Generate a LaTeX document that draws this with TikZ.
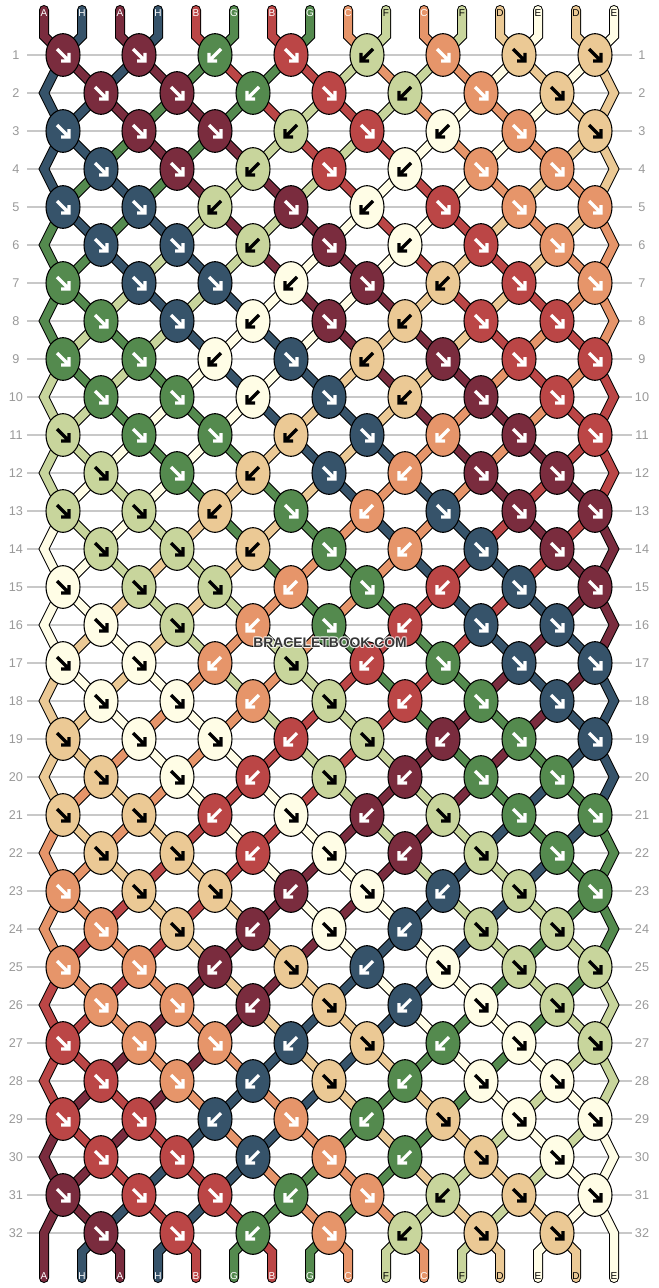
\documentclass[tikz,border=0pt]{standalone}
\usepackage{fontspec}
\setmainfont{Liberation Sans}
\usetikzlibrary{shapes.geometric}
\definecolor{cA}{HTML}{7A2C3E}
\definecolor{cH}{HTML}{36536A}
\definecolor{cB}{HTML}{BB4646}
\definecolor{cG}{HTML}{548A4E}
\definecolor{cC}{HTML}{E6956A}
\definecolor{cF}{HTML}{C8D59C}
\definecolor{cD}{HTML}{EBC995}
\definecolor{cE}{HTML}{FFFDE6}
\definecolor{gridgray}{HTML}{C8C8C8}
\definecolor{numgray}{HTML}{999999}
\definecolor{wmark}{HTML}{353535}
\def\txtA{white}\def\txtH{white}\def\txtB{white}\def\txtG{white}\def\txtC{white}
\def\txtF{black}\def\txtD{black}\def\txtE{black}
\begin{document}
\begin{tikzpicture}[x=0.75pt,y=-0.75pt,
  knot/.style={ellipse,draw=black,line width=0.8pt,minimum width=25.5pt,minimum height=32pt,inner sep=0pt},
  strandout/.style={line width=7.5pt,black,line cap=round,line join=miter},
  strandin/.style={line width=6pt,line cap=round,line join=miter},
  arr/.style={line width=2.4pt,line join=miter},
  rownum/.style={text=numgray,font=\fontsize{9.5}{11}\selectfont,inner sep=0pt},
  lbl/.style={font=\fontsize{7.5}{8}\selectfont,inner sep=0pt},
  gridline/.style={gridgray,line width=0.9pt},
  wmstyle/.style={font=\bfseries\fontsize{10.4}{12}\selectfont,inner sep=0pt}]
\useasboundingbox (0,0) rectangle (658,1288);
\fill[white] (0,0) rectangle (658,1288);
% grid lines and row numbers
\foreach \r in {1,...,32} {
  \draw[gridline] (27,{55+(\r-1)*38}) -- (632,{55+(\r-1)*38});
  \node[rownum] (rl-\r) at (16,{55+(\r-1)*38}) {\r};
  \node[rownum] (rr-\r) at (642,{55+(\r-1)*38}) {\r};
}
% coordinates
\foreach \j in {1,...,16} {
  \coordinate (t-\j) at ({44+(\j-1)*38},10);
  \coordinate (tb-\j) at ({44+(\j-1)*38},36);
  \coordinate (bb-\j) at ({44+(\j-1)*38},1252);
  \coordinate (b-\j) at ({44+(\j-1)*38},1278);
}
\foreach \r in {1,3,...,31} {
  \foreach \i in {1,3,...,15} {\coordinate (p-\r-\i) at ({63+(\i-1)*38},{55+(\r-1)*38});}
}
\foreach \r in {2,4,...,32} {
  \foreach \i in {2,4,...,14} {\coordinate (p-\r-\i) at ({63+(\i-1)*38},{55+(\r-1)*38});}
  \coordinate (e-\r-1) at (44,{55+(\r-1)*38});
  \coordinate (e-\r-16) at (614,{55+(\r-1)*38});
}
% string paths
\foreach \c [count=\s] in {A,H,A,H,B,G,B,G,C,F,C,F,D,E,D,E} {
  \xdef\curp{\s}
  \xdef\strpath{(t-\s) -- (tb-\s)}
  \foreach \r in {1,...,32} {
    \pgfmathtruncatemacro\rodd{mod(\r,2)}
    \pgfmathtruncatemacro\podd{mod(\curp,2)}
    \ifnum\rodd=1\relax
      \ifnum\podd=1\relax
        \xdef\strpath{\strpath -- (p-\r-\curp)}
        \pgfmathtruncatemacro\np{\curp+1}
      \else
        \pgfmathtruncatemacro\li{\curp-1}
        \xdef\strpath{\strpath -- (p-\r-\li)}
        \pgfmathtruncatemacro\np{\curp-1}
      \fi
    \else
      \ifnum\curp=1\relax
        \xdef\strpath{\strpath -- (e-\r-1)}
        \edef\np{1}
      \else\ifnum\curp=16\relax
        \xdef\strpath{\strpath -- (e-\r-16)}
        \edef\np{16}
      \else\ifnum\podd=0\relax
        \xdef\strpath{\strpath -- (p-\r-\curp)}
        \pgfmathtruncatemacro\np{\curp+1}
      \else
        \pgfmathtruncatemacro\li{\curp-1}
        \xdef\strpath{\strpath -- (p-\r-\li)}
        \pgfmathtruncatemacro\np{\curp-1}
      \fi\fi\fi
    \fi
    \xdef\curp{\np}
  }
  \expandafter\xdef\csname spath\s\endcsname{\strpath -- (bb-\curp) -- (b-\curp)}
  \expandafter\xdef\csname scol\s\endcsname{\c}
}
\foreach \s in {1,...,16} {
  \edef\tmp{\noexpand\draw[strandout] \csname spath\s\endcsname;}\tmp
}
\foreach \s in {1,...,16} {
  \edef\tmp{\noexpand\draw[strandin,color=c\csname scol\s\endcsname] \csname spath\s\endcsname;}\tmp
}
% end labels
\foreach \c [count=\j] in {A,H,A,H,B,G,B,G,C,F,C,F,D,E,D,E} {
  \edef\tc{\csname txt\c\endcsname}
  \node[lbl,text=\tc] (tl-\j) at ({44+(\j-1)*38},13) {\c};
  \node[lbl,text=\tc] (bl-\j) at ({44+(\j-1)*38},1276) {\c};
}
% knots
\foreach \c [count=\i] in {A,H,A,H,B,G,B,G,C,F,C,F,D,E,D,E} {\expandafter\xdef\csname col\i\endcsname{\c}}
\foreach \r in {1,...,32} {
  \pgfmathtruncatemacro\rodd{mod(\r,2)}
  \pgfmathtruncatemacro\rmf{mod(\r,4)}
  \ifnum\rmf=1\relax \def\bA{5}\def\bB{9}\else\ifnum\rmf=3\relax \def\bA{7}\def\bB{11}\else \def\bA{6}\def\bB{10}\fi\fi
  \ifnum\rodd=1\relax \def\ilist{1,3,5,7,9,11,13,15}\else \def\ilist{2,4,6,8,10,12,14}\fi
  \foreach \i in \ilist {
    \pgfmathtruncatemacro\jj{\i+1}
    \edef\Lc{\csname col\i\endcsname}
    \edef\Rc{\csname col\jj\endcsname}
    \def\dir{f}
    \ifnum\i=\bA\relax\def\dir{b}\fi
    \ifnum\i=\bB\relax\def\dir{b}\fi
    \if b\dir\edef\Kc{\Rc}\else\edef\Kc{\Lc}\fi
    \edef\AC{\csname txt\Kc\endcsname}
    \node[knot,fill=c\Kc] (k-\r-\i) at (p-\r-\i) {};
    \if b\dir
      \draw[arr,draw=\AC,shift={(p-\r-\i)}] (6,-6) -- (-5,5) (-6,-2) -- (-6,6) -- (2,6);
    \else
      \draw[arr,draw=\AC,shift={(p-\r-\i)}] (-6,-6) -- (5,5) (6,-2) -- (6,6) -- (-2,6);
    \fi
    \expandafter\xdef\csname col\i\endcsname{\Rc}
    \expandafter\xdef\csname col\jj\endcsname{\Lc}
  }
}
% watermark with light halo
\foreach \dx/\dy [count=\h] in {-1/0,1/0,0/-1,0/1,-0.8/-0.8,0.8/0.8,-0.8/0.8,0.8/-0.8} {
  \node[wmstyle,text=white,opacity=0.55] (wmh-\h) at ({330+\dx},{643+\dy}) {BRACELETBOOK.COM};
}
\node[wmstyle,text=wmark] (wm) at (330,643) {BRACELETBOOK.COM};
\end{tikzpicture}
\end{document}
